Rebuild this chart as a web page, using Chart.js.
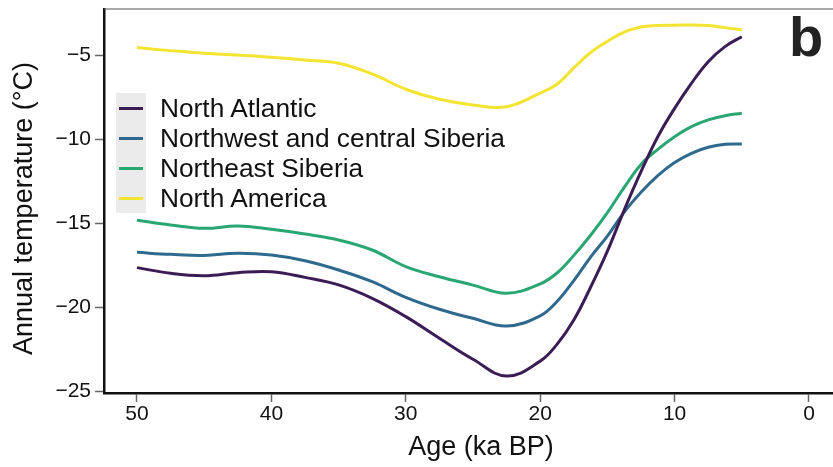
<!DOCTYPE html>
<html>
<head>
<meta charset="utf-8">
<script src="https://cdn.jsdelivr.net/npm/chart.js@4"></script>
<style>
    html, body { margin: 0; padding: 0; background: #fff; overflow: hidden; }
    #wrap { position: relative; width: 858px; height: 467px; }
    #panel-tag {
        position: absolute; left: 789px; top: 9px;
        font: bold 56px "Liberation Sans", Arial, sans-serif; line-height: 1; color: #222;
    }
    #legend {
        position: absolute; left: 116px; top: 93px;
        font: 26.3px "Liberation Sans", Arial, sans-serif; color: #111;
    }
    #legend .row { display: flex; align-items: center; height: 30px; }
    #legend .key { width: 30px; height: 30px; background: #ebebeb; position: relative; }
    #legend .key span { position: absolute; left: 3px; top: 13.5px; width: 24px; height: 3px; }
    #legend .label { margin-left: 14px; white-space: nowrap; }
</style>
</head>
<body>
<div id="wrap">
    <canvas id="chart" width="858" height="467"></canvas>
    <div id="panel-tag">b</div>
    <div id="legend"></div>
</div>
<script>
// 年龄 (ka BP)
const ages = [50, 47.5, 45, 42.5, 40, 37.5, 35, 32.5, 30, 27.5, 25, 22.5, 20, 18.75, 17.5, 16.25, 15, 13.75, 12.5, 11.25, 10, 8.75, 7.5, 6.25, 5];

// 年均温度 (°C)
const northAtlantic = [-17.63, -17.97, -18.11, -17.93, -17.87, -18.21, -18.66, -19.46, -20.55, -21.84, -23.09, -24.09, -23.2, -22.2, -20.75, -18.8, -16.65, -14.2, -11.91, -9.83, -8.14, -6.65, -5.36, -4.46, -3.87];
const nwCentralSiberia = [-16.72, -16.84, -16.9, -16.78, -16.88, -17.22, -17.77, -18.47, -19.4, -20.11, -20.65, -21.11, -20.5, -19.65, -18.4, -17.0, -15.75, -14.32, -13.14, -12.15, -11.37, -10.82, -10.46, -10.28, -10.26];
const neSiberia = [-14.81, -15.09, -15.29, -15.15, -15.35, -15.63, -15.98, -16.58, -17.57, -18.17, -18.67, -19.16, -18.6, -17.95, -16.9, -15.7, -14.35, -12.85, -11.48, -10.58, -9.83, -9.23, -8.83, -8.58, -8.43];
const northAmerica = [-4.52, -4.7, -4.86, -4.96, -5.1, -5.26, -5.45, -6.09, -7.0, -7.6, -7.94, -8.04, -7.23, -6.7, -5.73, -4.81, -4.14, -3.6, -3.29, -3.21, -3.19, -3.17, -3.21, -3.33, -3.47];

const seriesNames = ['North Atlantic', 'Northwest and central Siberia', 'Northeast Siberia', 'North America'];
const seriesValues = [northAtlantic, nwCentralSiberia, neSiberia, northAmerica];
const seriesColors = ['#3b1c54', '#2f6a8e', '#2aa672', '#f4e432'];

// 刻度
const xTicks = [0, 10, 20, 30, 40, 50];
const yTicks = [-25, -20, -15, -10, -5];

const FONT = '"Liberation Sans", Arial, sans-serif';

// 上边框
const topBorder = {
    id: 'topBorder',
    afterDraw(chart) {
        const { ctx, chartArea } = chart;
        ctx.save();
        ctx.strokeStyle = '#555';
        ctx.lineWidth = 1.2;
        ctx.beginPath();
        ctx.moveTo(chartArea.left, chartArea.top);
        ctx.lineTo(chartArea.right, chartArea.top);
        ctx.stroke();
        ctx.restore();
    }
};

const datasets = seriesNames.map((name, i) => ({
    label: name,
    data: ages.map((a, j) => ({ x: a, y: seriesValues[i][j] })),
    borderColor: seriesColors[i],
    backgroundColor: seriesColors[i],
    borderWidth: 3,
    pointRadius: 0,
    tension: 0.4,
    fill: false,
}));

const chart = new Chart(document.getElementById('chart'), {
    type: 'line',
    data: { datasets },
    plugins: [topBorder],
    options: {
        responsive: false,
        animation: false,
        devicePixelRatio: 1,
        layout: { padding: { top: 9, left: 0, right: 0, bottom: 0 } },
        plugins: {
            legend: { display: false },
            tooltip: { enabled: false },
        },
        scales: {
            x: {
                type: 'linear',
                reverse: true,
                min: -3.646,
                max: 52.455,
                afterBuildTicks: s => { s.ticks = xTicks.map(v => ({ value: v })); },
                afterFit: s => { s.height = 74; s.paddingLeft = 0; s.paddingRight = 0; },
                ticks: {
                    font: { family: FONT, size: 21 },
                    color: '#111',
                    padding: 0,
                    maxRotation: 0,
                },
                grid: { drawOnChartArea: false, drawTicks: true, tickLength: 9, tickColor: '#666', tickWidth: 1.5 },
                border: { display: true, color: '#111', width: 2.5 },
                title: {
                    display: true,
                    text: 'Age (ka BP)',
                    font: { family: FONT, size: 27 },
                    color: '#111',
                    padding: { top: 0, bottom: 3 },
                },
            },
            y: {
                min: -25.1,
                max: -2.22,
                afterBuildTicks: s => { s.ticks = yTicks.map(v => ({ value: v })); },
                afterFit: s => { s.width = 104; s.paddingTop = 0; s.paddingBottom = 0; },
                ticks: {
                    font: { family: FONT, size: 21 },
                    color: '#111',
                    padding: 4,
                    callback: v => String(v).replace('-', '\u2212'),
                },
                grid: { drawOnChartArea: false, drawTicks: true, tickLength: 9, tickColor: '#666', tickWidth: 1.5 },
                border: { display: true, color: '#111', width: 2.5 },
                title: {
                    display: true,
                    // 末尾两个空格让标题往下挪一点
                    text: 'Annual temperature (°C)\u00a0\u00a0',
                    font: { family: FONT, size: 27 },
                    color: '#111',
                    padding: { top: 8, bottom: 0 },
                },
            },
        },
    },
});

// 图例 (HTML)
const legendEl = document.getElementById('legend');
chart.data.datasets.forEach(ds => {
    const row = document.createElement('div');
    row.className = 'row';
    row.innerHTML = `<div class="key"><span style="background:${ds.borderColor}"></span></div><div class="label">${ds.label}</div>`;
    legendEl.appendChild(row);
});
</script>
</body>
</html>
